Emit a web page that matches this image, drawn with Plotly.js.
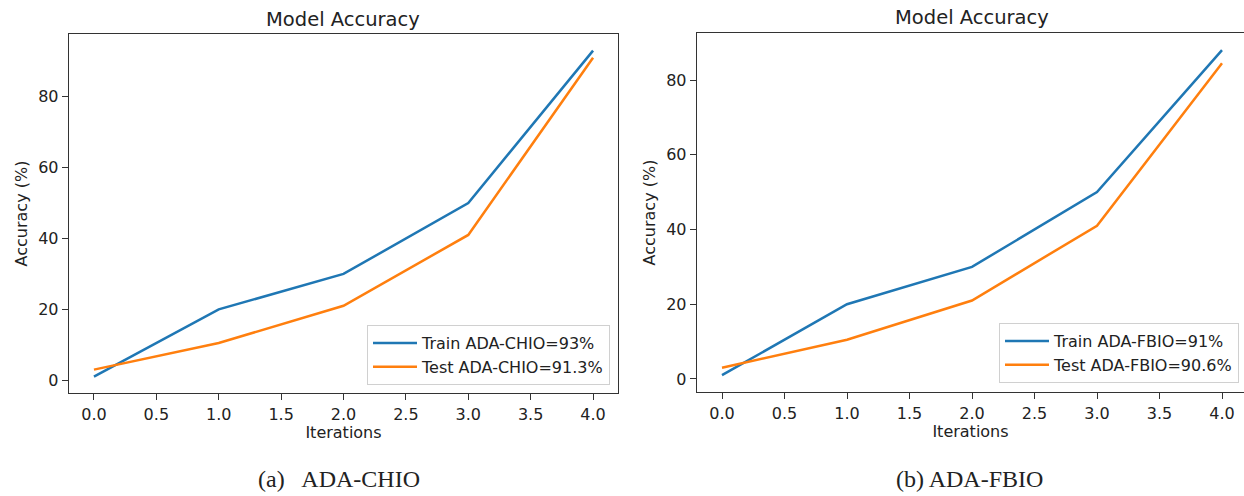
<!DOCTYPE html>
<html><head><meta charset="utf-8">
<script src="https://cdn.plot.ly/plotly-3.0.1.min.js"></script>
<style>html,body{margin:0;padding:0;background:#fff}#chart{width:1244px;height:496px}</style>
</head><body><div id="chart"></div>
<script>
const iterations = [0, 1, 2, 3, 4];
const trainCHIO = [1, 20, 30, 50, 93];
const testCHIO = [3, 10.5, 21, 41, 91];
const trainFBIO = [1, 20, 30, 50, 88];
const testFBIO = [3, 10.5, 21, 41, 84.5];
const xTicks = [0, 0.5, 1, 1.5, 2, 2.5, 3, 3.5, 4];
const xTickText = ['0.0','0.5','1.0','1.5','2.0','2.5','3.0','3.5','4.0'];
const yTicks = [0, 20, 40, 60, 80];

const blue = '#1f77b4', orange = '#ff7f0e';
const font = 'DejaVu Sans, sans-serif';
const txt = '#222';
const traces = [
  {x: iterations, y: trainCHIO, name: 'Train ADA-CHIO=93%', mode: 'lines', line: {color: blue, width: 2.5}, xaxis: 'x', yaxis: 'y', legend: 'legend'},
  {x: iterations, y: testCHIO, name: 'Test ADA-CHIO=91.3%', mode: 'lines', line: {color: orange, width: 2.5}, xaxis: 'x', yaxis: 'y', legend: 'legend'},
  {x: iterations, y: trainFBIO, name: 'Train ADA-FBIO=91%', mode: 'lines', line: {color: blue, width: 2.5}, xaxis: 'x2', yaxis: 'y2', legend: 'legend2'},
  {x: iterations, y: testFBIO, name: 'Test ADA-FBIO=90.6%', mode: 'lines', line: {color: orange, width: 2.5}, xaxis: 'x2', yaxis: 'y2', legend: 'legend2'}
];
const W = 1244, H = 496;
const px = v => v / W, py = v => 1 - v / H;
function xa(d0, d1, anchor, r) {
  return {domain: [d0, d1], anchor: anchor, range: r, tickvals: xTicks, ticktext: xTickText,
    showgrid: false, zeroline: false, showline: true, mirror: true, linecolor: '#333', linewidth: 1.3,
    ticks: 'outside', ticklen: 6, tickcolor: '#333', tickfont: {family: font, size: 16, color: txt},
    title: {text: 'Iterations', font: {family: font, size: 16, color: txt}, standoff: 4}};
}
function ya(d0, d1, anchor, r, mirror) {
  return {domain: [d0, d1], anchor: anchor, range: r, tickvals: yTicks,
    showgrid: false, zeroline: false, showline: true, mirror: mirror, linecolor: '#333', linewidth: 1.3,
    ticks: 'outside', ticklen: 6, tickcolor: '#333', tickfont: {family: font, size: 16, color: txt},
    title: {text: 'Accuracy (%)', font: {family: font, size: 16, color: txt}, standoff: 6}};
}
const legendStyle = {bgcolor: 'rgba(255,255,255,0.9)', bordercolor: '#d0d0d0', borderwidth: 1,
  font: {family: font, size: 16, color: txt}, xanchor: 'right', yanchor: 'bottom', tracegroupgap: 0, itemwidth: 44};
const layout = {
  width: W, height: H, margin: {l: 0, r: 0, t: 0, b: 0}, paper_bgcolor: '#fff', plot_bgcolor: '#fff',
  showlegend: true,
  xaxis: xa(px(69), px(618), 'y', [-0.2, 4.2]),
  yaxis: ya(py(393), py(34), 'x', [-3.6, 97.7], true),
  xaxis2: xa(px(697), 1, 'y2', [-0.2, 4.176]),
  yaxis2: ya(py(392), py(33), 'x2', [-3.5, 92.6], false),
  legend: Object.assign({x: px(610), y: py(385)}, legendStyle),
  legend2: Object.assign({x: px(1239), y: py(383)}, legendStyle),
  annotations: [
    {text: 'Model Accuracy', x: px(343), y: py(19), xref: 'paper', yref: 'paper', xanchor: 'center', yanchor: 'middle', showarrow: false, font: {family: font, size: 19.5, color: txt}},
    {text: 'Model Accuracy', x: px(972), y: py(18), xref: 'paper', yref: 'paper', xanchor: 'center', yanchor: 'middle', showarrow: false, font: {family: font, size: 19.5, color: txt}},
    {text: '(a)   ADA-CHIO', x: px(339), y: py(479), xref: 'paper', yref: 'paper', xanchor: 'center', yanchor: 'middle', showarrow: false, font: {family: 'Liberation Serif, serif', size: 24, color: txt}},
    {text: '(b) ADA-FBIO', x: px(969), y: py(479), xref: 'paper', yref: 'paper', xanchor: 'center', yanchor: 'middle', showarrow: false, font: {family: 'Liberation Serif, serif', size: 24, color: txt}}
  ]
};
Plotly.newPlot('chart', traces, layout, {staticPlot: true});
</script></body></html>
